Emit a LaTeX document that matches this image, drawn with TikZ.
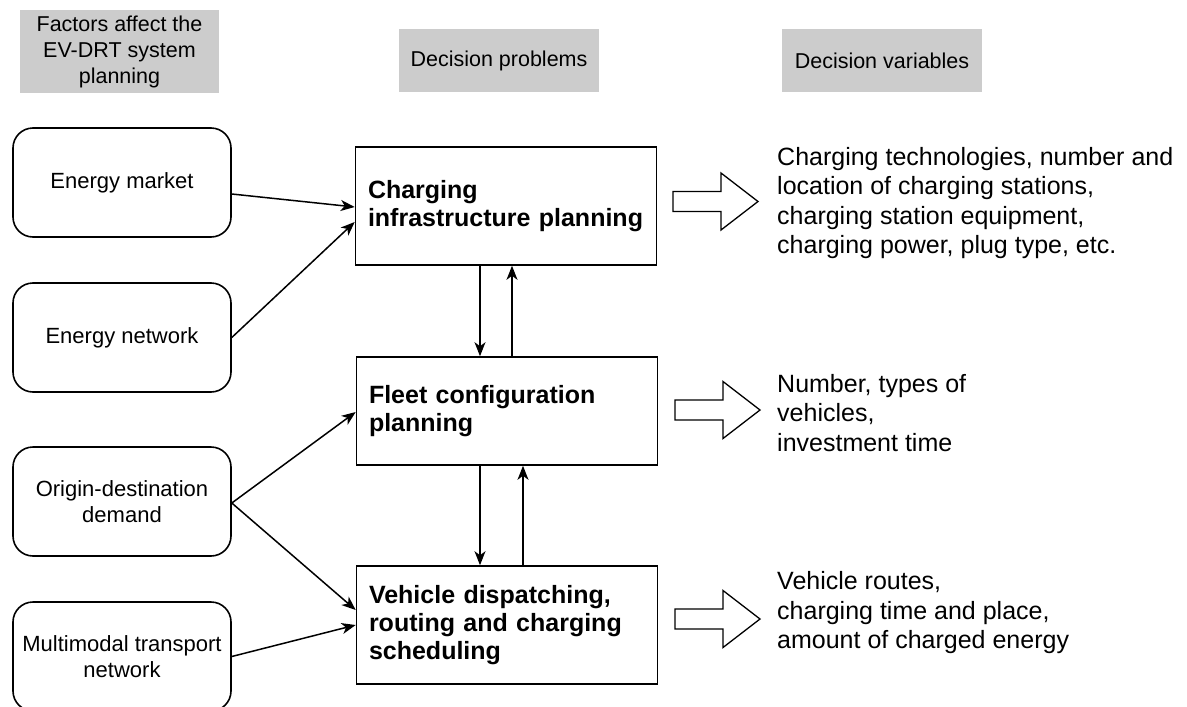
\documentclass[tikz,border=0pt]{standalone}
\usepackage{fontspec}
\setmainfont{Liberation Sans}
\usetikzlibrary{arrows.meta,calc}
\definecolor{hgray}{HTML}{CCCCCC}
\begin{document}
\begin{tikzpicture}[x=1pt,y=-1pt,
  hdr/.style={fill=hgray, draw=none, align=center, inner sep=0pt,
    font=\fontsize{21.5}{26}\selectfont},
  factor/.style={draw, line width=1.6pt, rounded corners=20pt, minimum width=218pt,
    minimum height=109pt, align=center, inner sep=0pt,
    font=\fontsize{22}{26.5}\selectfont},
  prob/.style={draw, line width=1.6pt, text width=276pt, inner xsep=12.5pt, inner ysep=0pt,
    align=left, font=\bfseries\fontsize{25}{28}\selectfont},
  var/.style={anchor=west, align=left, inner sep=0pt,
    font=\fontsize{25}{29.5}\selectfont},
  arr/.style={-{Stealth[length=14pt,width=11pt,inset=4pt]}, line width=1.5pt},
  hollowarrow/.pic={\draw[line width=1.3pt, line join=miter]
    (0,-10) -- (48,-10) -- (48,-28.5) -- (85,0) -- (48,28.5) -- (48,10) -- (0,10) -- cycle;}
]
\useasboundingbox (0,0) rectangle (1187,707);

% headers
\node[hdr, minimum width=199pt, minimum height=83pt] (h1) at (119.5,51.5)
  {Factors affect the\\EV-DRT system\\planning};
\node[hdr, minimum width=200pt, minimum height=63pt] (h2) at (499,60.5) {Decision problems};
\node[hdr, minimum width=200pt, minimum height=63pt] (h3) at (882,60.5) {Decision variables};

% factor boxes
\node[factor] (em) at (122,182.5) {Energy market};
\node[factor] (en) at (122,337.5) {Energy network};
\node[factor] (od) at (122,501.5) {Origin-destination\\demand};
\node[factor] (mm) at (122,656.5) {Multimodal transport\\network};

% decision problem boxes
\node[prob, minimum height=118pt] (A) at (506,206) {Charging\\infrastructure planning};
\node[prob, minimum height=108pt] (B) at (507,411) {Fleet configuration\\planning};
\node[prob, minimum height=118pt] (C) at (507,625) {Vehicle dispatching,\\routing and charging\\scheduling};

% vertical arrows
\draw[arr] ($(A.south)+(-26,0)$) -- ($(A.south |- B.north)+(-26,0)$);
\draw[arr] ($(A.south |- B.north)+(6,0)$) -- ($(A.south)+(6,0)$);
\draw[arr] ($(B.south)+(-27,0)$) -- ($(B.south |- C.north)+(-27,0)$);
\draw[arr] ($(B.south |- C.north)+(16,0)$) -- ($(B.south)+(16,0)$);

% factor arrows
\draw[arr] ($(em.east)+(0,11.5)$) -- ($(A.west)+(0,1)$);
\draw[arr] (en.east) -- ($(A.west)+(0,16)$);
\draw[arr] ($(od.east)+(0,1.5)$) -- ($(B.west)+(0,1)$);
\draw[arr] ($(od.east)+(0,1.5)$) -- ($(C.west)+(0,-15)$);
\draw[arr] (mm.east) -- (C.west);

% hollow arrows
\pic at (673,201.5) {hollowarrow};
\pic at (675,410) {hollowarrow};
\pic at (675,619) {hollowarrow};

% decision variables
\node[var] (v1) at (777,203) {Charging technologies, number and\\location of charging stations,\\charging station equipment,\\charging power, plug type, etc.};
\node[var] (v2) at (777,413) {Number, types of\\vehicles,\\investment time};
\node[var] (v3) at (777,613) {Vehicle routes,\\charging time and place,\\amount of charged energy};
\end{tikzpicture}
\end{document}
